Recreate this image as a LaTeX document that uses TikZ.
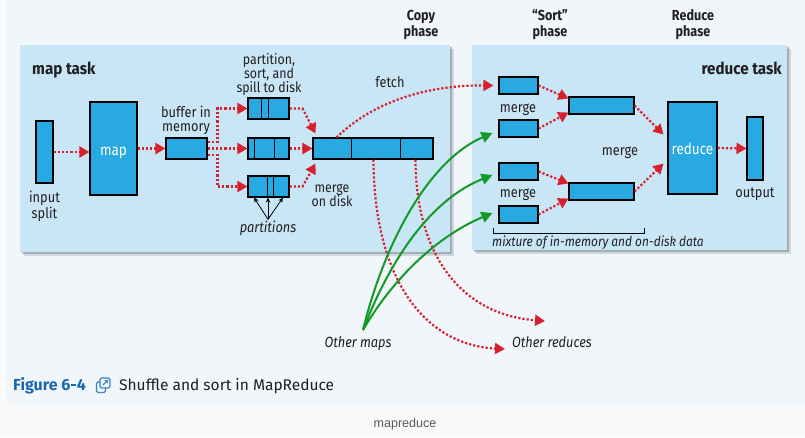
\documentclass[tikz,border=0pt]{standalone}
\usepackage{fontspec}
\setmainfont{Fira Sans}
\newfontfamily\dg[FakeStretch=0.87]{Fira Sans}
\newfontfamily\dgb[FakeStretch=0.92]{Fira Sans}
\newfontfamily\capf{Fira Sans}
\newfontfamily\webf{Liberation Sans}
\newcommand\tightls{\lineskiplimit-30pt\lineskip0pt\relax}
\usetikzlibrary{arrows.meta,calc}
\definecolor{pagebg}{HTML}{F9F9F9}
\definecolor{figbg}{HTML}{F1F6FA}
\definecolor{panel}{HTML}{C8E6F6}
\definecolor{boxblue}{HTML}{29A9E1}
\definecolor{redc}{HTML}{D7212F}
\definecolor{greenc}{HTML}{129A27}
\definecolor{capblue}{HTML}{1A68B0}
\definecolor{iconblue}{HTML}{3A86C8}
\definecolor{txt}{HTML}{231F20}
\definecolor{shadowc}{HTML}{6F7C85}
\begin{document}
\begin{tikzpicture}[x=1pt,y=-1pt,
  blk/.style={draw=black,line width=1.1pt,fill=boxblue,inner sep=0pt},
  lbl/.style={inner sep=0pt,align=center,text=txt,anchor=base},
  fnt/.style={font=\dg\fontsize{14.7}{#1}\selectfont\tightls},
  fnt/.default=13,
  fns/.style={font=\dg\fontsize{14.2}{#1}\selectfont\tightls},
  itl/.style={font=\dg\itshape\fontsize{14.7}{13}\selectfont},
  phs/.style={font=\dg\bfseries\fontsize{14.5}{15.5}\selectfont\tightls},
  tsk/.style={font=\dgb\bfseries\fontsize{16.5}{18}\selectfont},
  wht/.style={inner sep=0pt,text=white,anchor=base,font=\dg\fontsize{15.5}{18}\selectfont},
  rarr/.style={draw=redc,line width=2.2pt,dash pattern=on 2.2pt off 2pt,
     -{Triangle[length=10pt,width=11pt,fill=redc]}},
  garr/.style={draw=greenc,line width=2pt,
     -{Triangle[length=11pt,width=11pt,fill=greenc]}},
  karr/.style={draw=black,line width=0.8pt,-{Stealth[length=5pt,width=4.5pt]}},
  divl/.style={draw=black,line width=1.1pt},
]
\useasboundingbox (0,0) rectangle (805,437);
% backgrounds
\fill[pagebg] (0,0) rectangle (805,437);
\fill[figbg] (6,0) rectangle (805,404);
% panel shadows and panels
\fill[shadowc,opacity=0.25] (24,49) rectangle (454,256);
\fill[shadowc,opacity=0.45] (22,47) rectangle (452,254);
\fill[panel] (20,45) rectangle (450,252);
\fill[shadowc,opacity=0.25] (476,49) rectangle (791,254);
\fill[shadowc,opacity=0.45] (474,47) rectangle (789,252);
\fill[panel] (472,45) rectangle (787,250);

% phase titles (anchor base = last line)
\node[lbl,phs] (copyph) at (421,36) {Copy\\phase};
\node[lbl,phs] (sortph) at (550,36) {“Sort”\\phase};
\node[lbl,phs] (redph) at (693,36) {Reduce\\phase};
\node[lbl,tsk,anchor=base west] (maptask) at (32,74) {map task};
\node[lbl,tsk,anchor=base east] (redtask) at (782,74) {reduce task};

% map side boxes
\node[blk,minimum width=17pt,minimum height=62pt] (insplit) at (44.5,152) {};
\node[blk,minimum width=47pt,minimum height=93pt] (map) at (113.5,148.5) {};
\node[wht] (maptxt) at (113.5,155) {map};
\node[blk,minimum width=41pt,minimum height=21pt] (buffer) at (186.5,148.5) {};
\node[blk,minimum width=41pt,minimum height=21pt] (spilla) at (268.5,108.5) {};
\node[blk,minimum width=41pt,minimum height=21pt] (spillb) at (268.5,148.5) {};
\node[blk,minimum width=41pt,minimum height=21pt] (spillc) at (268.5,186.5) {};
\node[blk,minimum width=120pt,minimum height=21pt] (mdisk) at (373,148.5) {};
\draw[divl] ([xshift=14pt]spilla.north west) -- ([xshift=14pt]spilla.south west);
\draw[divl] ([xshift=21pt]spilla.north west) -- ([xshift=21pt]spilla.south west);
\draw[divl] ([xshift=7pt]spillb.north west) -- ([xshift=7pt]spillb.south west);
\draw[divl] ([xshift=27pt]spillb.north west) -- ([xshift=27pt]spillb.south west);
\draw[divl] ([xshift=20pt]spillc.north west) -- ([xshift=20pt]spillc.south west);
\draw[divl] ([xshift=26pt]spillc.north west) -- ([xshift=26pt]spillc.south west);
\draw[divl] ([xshift=39pt]mdisk.north west) -- ([xshift=39pt]mdisk.south west);
\draw[divl] ([xshift=88pt]mdisk.north west) -- ([xshift=88pt]mdisk.south west);

% map side labels (anchor base = last line)
\node[lbl,fnt=16] (insplitl) at (44.5,218) {input\\split};
\node[lbl,fnt=14] (bufl) at (186,131) {buffer in\\memory};
\node[lbl,fns=13.6] (spilll) at (269,92) {partition,\\sort, and\\spill to disk};
\node[lbl,fns=14] (mdiskl) at (332,206.5) {merge\\on disk};
\node[lbl,itl] (partl) at (268,232) {partitions};
\node[lbl,fnt] (fetchl) at (390,87) {fetch};

% reduce side boxes
\node[blk,minimum width=39pt,minimum height=17pt] (rma) at (518.5,85.5) {};
\node[blk,minimum width=39pt,minimum height=17pt] (rmb) at (518.5,128.5) {};
\node[blk,minimum width=39pt,minimum height=17pt] (rmc) at (518.5,171.5) {};
\node[blk,minimum width=39pt,minimum height=17pt] (rmd) at (518.5,214.5) {};
\node[blk,minimum width=65pt,minimum height=17pt] (rmida) at (601.5,105.5) {};
\node[blk,minimum width=65pt,minimum height=17pt] (rmidb) at (601.5,191.5) {};
\node[blk,minimum width=49pt,minimum height=92pt] (reduce) at (692.5,148) {};
\node[wht] (redtxt) at (692.5,154) {reduce};
\node[blk,minimum width=16pt,minimum height=63pt] (output) at (755,148.5) {};

% reduce side labels
\node[lbl,fnt] (mla) at (518,112) {merge};
\node[lbl,fnt] (mlb) at (518,197) {merge};
\node[lbl,fnt] (mlc) at (620,155) {merge};
\node[lbl,fnt] (outl) at (755,197) {output};
\node[lbl,anchor=base west,font=\dg\itshape\fontsize{13.7}{13}\selectfont] (mixl) at (492,246) {mixture of in-memory and on-disk data};
\coordinate (bra) at (493,228);
\coordinate (brb) at (644,228);
\draw[black,line width=0.9pt] (bra) -- ++(0,5) -| (brb);

% bottom labels
\node[lbl,itl] (omaps) at (358,347) {Other maps};
\node[lbl,itl] (ored) at (552,347) {Other reduces};
\coordinate (gs) at (363,330);
\coordinate (ora) at (505,349);
\coordinate (orb) at (545,321);

% red arrows map side
\draw[rarr] (insplit.east) -- (insplit.east -| map.west);
\draw[rarr] (map.east) -- (buffer.west);
\draw[rarr] ([yshift=6.5pt]buffer.east) -- ++(10,0) |- (spilla.west);
\draw[rarr] (buffer.east) -- (spillb.west);
\draw[rarr] ([yshift=-6.5pt]buffer.east) -- ++(10,0) |- (spillc.west);
\draw[rarr] (spilla.east) -- ++(13,0) -- ([xshift=3pt,yshift=4pt]mdisk.north west);
\draw[rarr] (spillb.east) -- (mdisk.west);
\draw[rarr] (spillc.east) -- ++(13,0) -- ([xshift=3pt,yshift=-4pt]mdisk.south west);
% partitions
\coordinate (pk) at ([yshift=1pt]partl.north);
\draw[karr] (pk) -- ([xshift=-14pt]partl.north |- spillc.south);
\draw[karr] (pk) -- (partl.north |- spillc.south);
\draw[karr] (pk) -- ([xshift=15pt]partl.north |- spillc.south);
% fetch
\draw[rarr] ([xshift=24pt]mdisk.north west) .. controls (375,100) and (430,85) .. ([xshift=-5pt]rma.west);
% other reduces
\draw[rarr] ([xshift=61pt]mdisk.south west) .. controls (374,280) and (425,345) .. (ora);
\draw[rarr] ([xshift=103pt]mdisk.south west) .. controls (416,260) and (465,315) .. (orb);

% reduce side arrows
\draw[rarr] (rma.east) -- ([yshift=-2pt]rmida.north west);
\draw[rarr] (rmb.east) -- ([yshift=2pt]rmida.south west);
\draw[rarr] (rmc.east) -- ([yshift=-1pt]rmidb.north west);
\draw[rarr] (rmd.east) -- ([yshift=2pt]rmidb.south west);
\draw[rarr] (rmida.east) -- ([xshift=-4pt,yshift=-33pt]reduce.north west);
\draw[rarr] (rmidb.east) -- ([xshift=-4pt,yshift=31pt]reduce.south west);
\draw[rarr] (reduce.east) -- (output.west);

% green arrows
\draw[garr] (gs) .. controls (385,240) and (430,160) .. ([xshift=-6pt,yshift=-4.5pt]rmb.west);
\draw[garr] (gs) .. controls (390,260) and (430,200) .. ([xshift=-6pt,yshift=-3.5pt]rmc.west);
\draw[garr] (gs) .. controls (395,275) and (440,235) .. ([xshift=-6pt,yshift=1.5pt]rmd.west);

% caption
\node[inner sep=0pt,anchor=base west,text=capblue,font=\capf\bfseries\fontsize{16}{18}\selectfont] (figno) at (13,390) {Figure 6-4};
\draw[iconblue,line width=1.1pt,rounded corners=1.5pt] (96.5,382) rectangle (105.5,392.5);
\filldraw[fill=figbg,draw=iconblue,line width=1.1pt,rounded corners=1.5pt] (100,378) rectangle (110,388);
\draw[iconblue,line width=1.1pt] (103,385) -- (107.5,380.5);
\fill[iconblue] (108.3,379.7) -- (104.5,380.2) -- (107.8,383.5) -- cycle;
\node[inner sep=0pt,anchor=base west,text=txt,font=\capf\fontsize{15.5}{18}\selectfont] (captxt) at (119,390) {Shuffle and sort in MapReduce};
\node[inner sep=0pt,anchor=base,text=black!65,font=\webf\fontsize{12.5}{14}\selectfont] (webl) at (405,427) {mapreduce};
\end{tikzpicture}
\end{document}
